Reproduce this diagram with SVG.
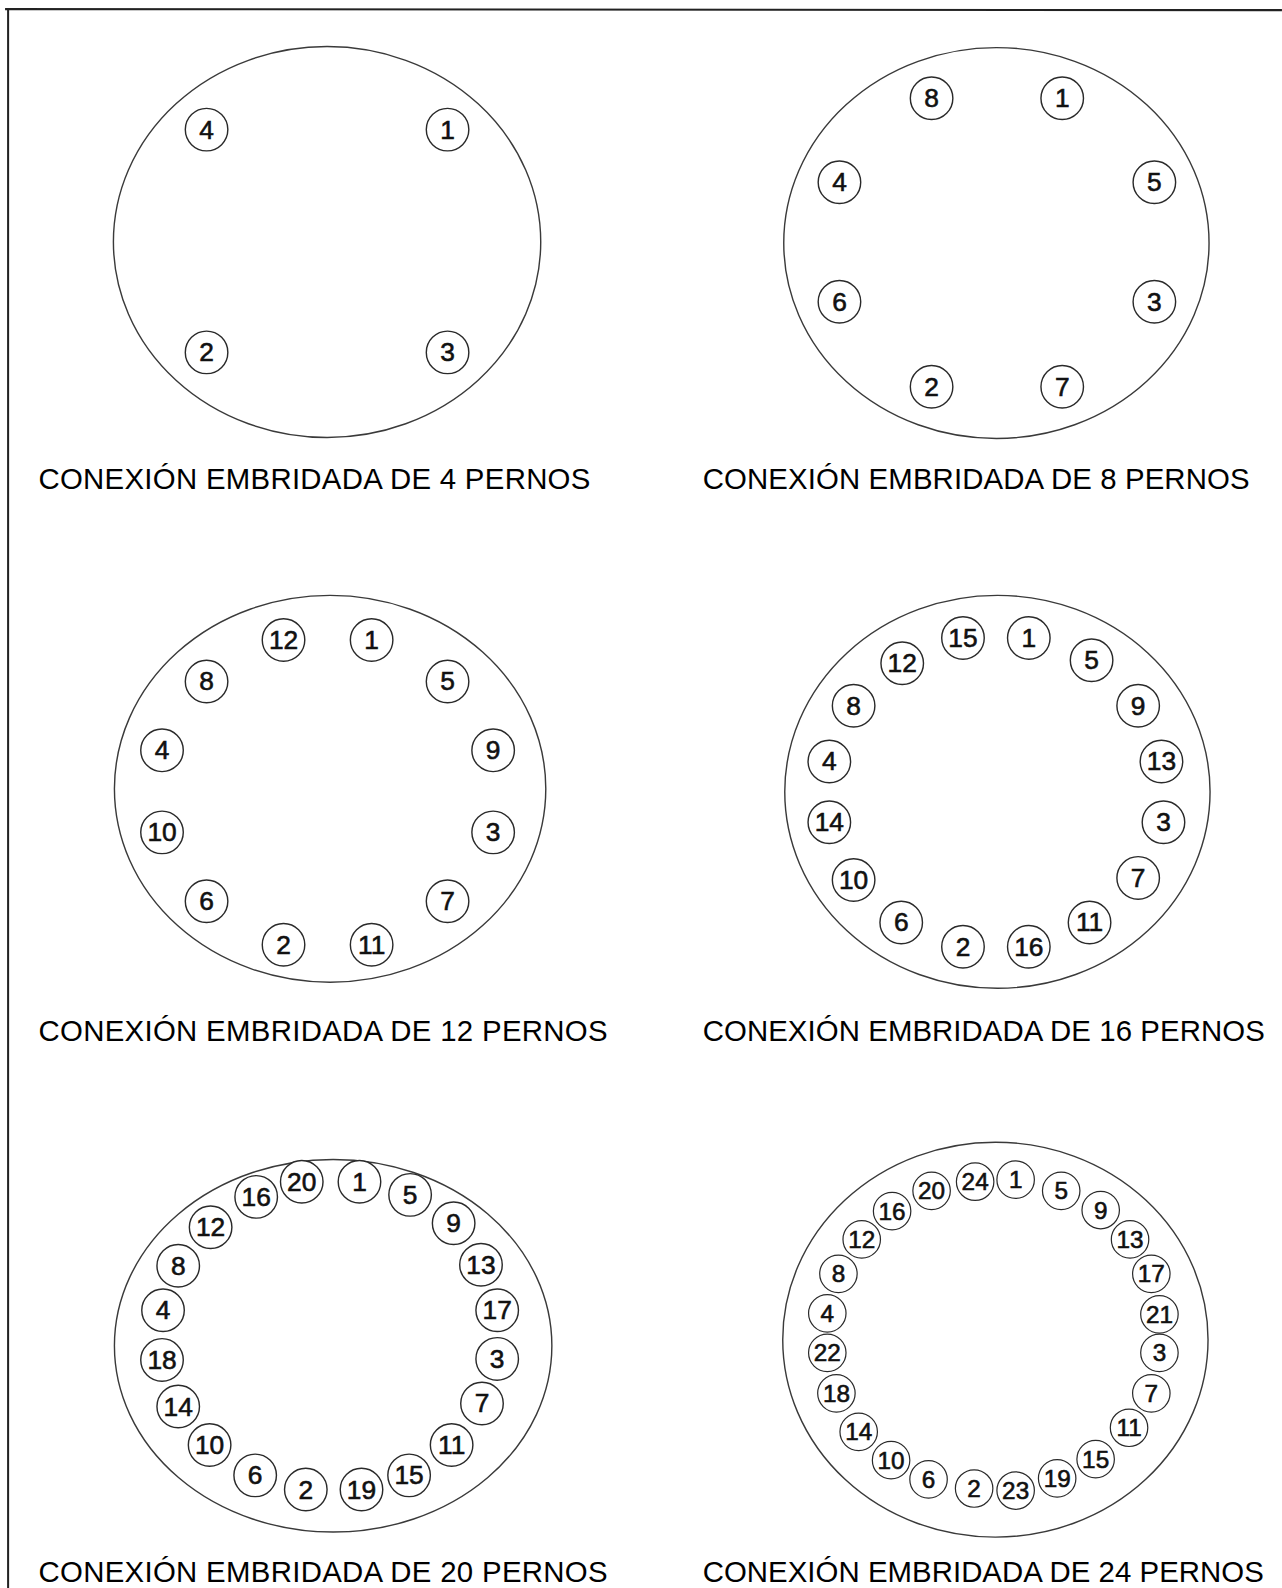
<svg xmlns="http://www.w3.org/2000/svg" width="1282" height="1588" viewBox="0 0 1282 1588">
<style>
.flange{fill:none;stroke:#3a3a3a;stroke-width:1.4}
.bolt circle{fill:#fff;stroke:#2a2a2a;stroke-width:1.4}
.bolt text{font-family:"Liberation Sans",Arial,sans-serif;font-size:26px;fill:#111;stroke:#111;stroke-width:0.6;text-anchor:middle;dominant-baseline:central}
.small circle{stroke-width:1.2}
.small text{font-size:24px}
.cap{font-family:"Liberation Sans",Arial,sans-serif;font-size:29px;fill:#000}
.frame{stroke:#222;stroke-width:2;fill:none}
</style>
<rect width="1282" height="1588" fill="#fff"/>
<g transform="scale(1.0126)">
<g id="frame">
<line class="frame" x1="5" y1="9" x2="1266" y2="10"/>
<line class="frame" x1="8" y1="9" x2="8" y2="1570"/>
</g>

<g id="flange-4">
<ellipse class="flange" cx="323" cy="239" rx="211" ry="193"/>
<g class="bolt" id="f4-b4" transform="translate(204,128)"><circle r="21"/><text>4</text></g>
<g class="bolt" id="f4-b1" transform="translate(442,128)"><circle r="21"/><text>1</text></g>
<g class="bolt" id="f4-b2" transform="translate(204,348)"><circle r="21"/><text>2</text></g>
<g class="bolt" id="f4-b3" transform="translate(442,348)"><circle r="21"/><text>3</text></g>
<text class="cap" x="38" y="483" textLength="545">CONEXIÓN EMBRIDADA DE 4 PERNOS</text>
</g>

<g id="flange-8">
<ellipse class="flange" cx="984" cy="240" rx="210" ry="193"/>
<g class="bolt" id="f8-b8" transform="translate(920,97)"><circle r="21"/><text>8</text></g>
<g class="bolt" id="f8-b1" transform="translate(1049,97)"><circle r="21"/><text>1</text></g>
<g class="bolt" id="f8-b4" transform="translate(829,180)"><circle r="21"/><text>4</text></g>
<g class="bolt" id="f8-b5" transform="translate(1140,180)"><circle r="21"/><text>5</text></g>
<g class="bolt" id="f8-b6" transform="translate(829,298)"><circle r="21"/><text>6</text></g>
<g class="bolt" id="f8-b3" transform="translate(1140,298)"><circle r="21"/><text>3</text></g>
<g class="bolt" id="f8-b2" transform="translate(920,382)"><circle r="21"/><text>2</text></g>
<g class="bolt" id="f8-b7" transform="translate(1049,382)"><circle r="21"/><text>7</text></g>
<text class="cap" x="694" y="483" textLength="540">CONEXIÓN EMBRIDADA DE 8 PERNOS</text>
</g>

<g id="flange-12">
<ellipse class="flange" cx="326" cy="779" rx="213" ry="191"/>
<g class="bolt" id="f12-b12" transform="translate(280,632)"><circle r="21"/><text>12</text></g>
<g class="bolt" id="f12-b1" transform="translate(367,632)"><circle r="21"/><text>1</text></g>
<g class="bolt" id="f12-b8" transform="translate(204,673)"><circle r="21"/><text>8</text></g>
<g class="bolt" id="f12-b5" transform="translate(442,673)"><circle r="21"/><text>5</text></g>
<g class="bolt" id="f12-b4" transform="translate(160,741)"><circle r="21"/><text>4</text></g>
<g class="bolt" id="f12-b9" transform="translate(487,741)"><circle r="21"/><text>9</text></g>
<g class="bolt" id="f12-b10" transform="translate(160,822)"><circle r="21"/><text>10</text></g>
<g class="bolt" id="f12-b3" transform="translate(487,822)"><circle r="21"/><text>3</text></g>
<g class="bolt" id="f12-b6" transform="translate(204,890)"><circle r="21"/><text>6</text></g>
<g class="bolt" id="f12-b7" transform="translate(442,890)"><circle r="21"/><text>7</text></g>
<g class="bolt" id="f12-b2" transform="translate(280,933)"><circle r="21"/><text>2</text></g>
<g class="bolt" id="f12-b11" transform="translate(367,933)"><circle r="21"/><text>11</text></g>
<text class="cap" x="38" y="1028" textLength="562">CONEXIÓN EMBRIDADA DE 12 PERNOS</text>
</g>

<g id="flange-16">
<ellipse class="flange" cx="985" cy="782" rx="210" ry="194"/>
<g class="bolt" id="f16-b15" transform="translate(951,630)"><circle r="21"/><text>15</text></g>
<g class="bolt" id="f16-b1" transform="translate(1016,630)"><circle r="21"/><text>1</text></g>
<g class="bolt" id="f16-b12" transform="translate(891,655)"><circle r="21"/><text>12</text></g>
<g class="bolt" id="f16-b5" transform="translate(1078,652)"><circle r="21"/><text>5</text></g>
<g class="bolt" id="f16-b8" transform="translate(843,697)"><circle r="21"/><text>8</text></g>
<g class="bolt" id="f16-b9" transform="translate(1124,697)"><circle r="21"/><text>9</text></g>
<g class="bolt" id="f16-b4" transform="translate(819,752)"><circle r="21"/><text>4</text></g>
<g class="bolt" id="f16-b13" transform="translate(1147,752)"><circle r="21"/><text>13</text></g>
<g class="bolt" id="f16-b14" transform="translate(819,812)"><circle r="21"/><text>14</text></g>
<g class="bolt" id="f16-b3" transform="translate(1149,812)"><circle r="21"/><text>3</text></g>
<g class="bolt" id="f16-b10" transform="translate(843,869)"><circle r="21"/><text>10</text></g>
<g class="bolt" id="f16-b7" transform="translate(1124,867)"><circle r="21"/><text>7</text></g>
<g class="bolt" id="f16-b6" transform="translate(890,911)"><circle r="21"/><text>6</text></g>
<g class="bolt" id="f16-b11" transform="translate(1076,911)"><circle r="21"/><text>11</text></g>
<g class="bolt" id="f16-b2" transform="translate(951,935)"><circle r="21"/><text>2</text></g>
<g class="bolt" id="f16-b16" transform="translate(1016,935)"><circle r="21"/><text>16</text></g>
<text class="cap" x="694" y="1028" textLength="555">CONEXIÓN EMBRIDADA DE 16 PERNOS</text>
</g>

<g id="flange-20">
<ellipse class="flange" cx="329" cy="1329" rx="216" ry="184"/>
<g class="bolt" id="f20-b20" transform="translate(298,1167)"><circle r="21"/><text>20</text></g>
<g class="bolt" id="f20-b1" transform="translate(355,1167)"><circle r="21"/><text>1</text></g>
<g class="bolt" id="f20-b16" transform="translate(253,1182)"><circle r="21"/><text>16</text></g>
<g class="bolt" id="f20-b5" transform="translate(405,1180)"><circle r="21"/><text>5</text></g>
<g class="bolt" id="f20-b12" transform="translate(208,1212)"><circle r="21"/><text>12</text></g>
<g class="bolt" id="f20-b9" transform="translate(448,1208)"><circle r="21"/><text>9</text></g>
<g class="bolt" id="f20-b8" transform="translate(176,1250)"><circle r="21"/><text>8</text></g>
<g class="bolt" id="f20-b13" transform="translate(475,1249)"><circle r="21"/><text>13</text></g>
<g class="bolt" id="f20-b4" transform="translate(161,1294)"><circle r="21"/><text>4</text></g>
<g class="bolt" id="f20-b17" transform="translate(491,1294)"><circle r="21"/><text>17</text></g>
<g class="bolt" id="f20-b18" transform="translate(160,1343)"><circle r="21"/><text>18</text></g>
<g class="bolt" id="f20-b3" transform="translate(491,1342)"><circle r="21"/><text>3</text></g>
<g class="bolt" id="f20-b14" transform="translate(176,1389)"><circle r="21"/><text>14</text></g>
<g class="bolt" id="f20-b7" transform="translate(476,1386)"><circle r="21"/><text>7</text></g>
<g class="bolt" id="f20-b10" transform="translate(207,1427)"><circle r="21"/><text>10</text></g>
<g class="bolt" id="f20-b11" transform="translate(446,1427)"><circle r="21"/><text>11</text></g>
<g class="bolt" id="f20-b6" transform="translate(252,1457)"><circle r="21"/><text>6</text></g>
<g class="bolt" id="f20-b15" transform="translate(404,1457)"><circle r="21"/><text>15</text></g>
<g class="bolt" id="f20-b2" transform="translate(302,1471)"><circle r="21"/><text>2</text></g>
<g class="bolt" id="f20-b19" transform="translate(357,1471)"><circle r="21"/><text>19</text></g>
<text class="cap" x="38" y="1562" textLength="562">CONEXIÓN EMBRIDADA DE 20 PERNOS</text>
</g>

<g id="flange-24">
<ellipse class="flange" cx="983" cy="1323" rx="210" ry="195"/>
<g class="bolt small" id="f24-b24" transform="translate(963,1167)"><circle r="18.5"/><text>24</text></g>
<g class="bolt small" id="f24-b1" transform="translate(1003,1165)"><circle r="18.5"/><text>1</text></g>
<g class="bolt small" id="f24-b20" transform="translate(920,1176)"><circle r="18.5"/><text>20</text></g>
<g class="bolt small" id="f24-b5" transform="translate(1048,1176)"><circle r="18.5"/><text>5</text></g>
<g class="bolt small" id="f24-b16" transform="translate(881,1196)"><circle r="18.5"/><text>16</text></g>
<g class="bolt small" id="f24-b9" transform="translate(1087,1195)"><circle r="18.5"/><text>9</text></g>
<g class="bolt small" id="f24-b12" transform="translate(851,1224)"><circle r="18.5"/><text>12</text></g>
<g class="bolt small" id="f24-b13" transform="translate(1116,1224)"><circle r="18.5"/><text>13</text></g>
<g class="bolt small" id="f24-b8" transform="translate(828,1258)"><circle r="18.5"/><text>8</text></g>
<g class="bolt small" id="f24-b17" transform="translate(1137,1258)"><circle r="18.5"/><text>17</text></g>
<g class="bolt small" id="f24-b4" transform="translate(817,1297)"><circle r="18.5"/><text>4</text></g>
<g class="bolt small" id="f24-b21" transform="translate(1145,1298)"><circle r="18.5"/><text>21</text></g>
<g class="bolt small" id="f24-b22" transform="translate(817,1336)"><circle r="18.5"/><text>22</text></g>
<g class="bolt small" id="f24-b3" transform="translate(1145,1336)"><circle r="18.5"/><text>3</text></g>
<g class="bolt small" id="f24-b18" transform="translate(826,1376)"><circle r="18.5"/><text>18</text></g>
<g class="bolt small" id="f24-b7" transform="translate(1137,1376)"><circle r="18.5"/><text>7</text></g>
<g class="bolt small" id="f24-b14" transform="translate(848,1414)"><circle r="18.5"/><text>14</text></g>
<g class="bolt small" id="f24-b11" transform="translate(1115,1410)"><circle r="18.5"/><text>11</text></g>
<g class="bolt small" id="f24-b10" transform="translate(880,1442)"><circle r="18.5"/><text>10</text></g>
<g class="bolt small" id="f24-b15" transform="translate(1082,1441)"><circle r="18.5"/><text>15</text></g>
<g class="bolt small" id="f24-b6" transform="translate(917,1461)"><circle r="18.5"/><text>6</text></g>
<g class="bolt small" id="f24-b19" transform="translate(1044,1460)"><circle r="18.5"/><text>19</text></g>
<g class="bolt small" id="f24-b2" transform="translate(962,1470)"><circle r="18.5"/><text>2</text></g>
<g class="bolt small" id="f24-b23" transform="translate(1003,1472)"><circle r="18.5"/><text>23</text></g>
<text class="cap" x="694" y="1562" textLength="554">CONEXIÓN EMBRIDADA DE 24 PERNOS</text>
</g>
</g>
</svg>
